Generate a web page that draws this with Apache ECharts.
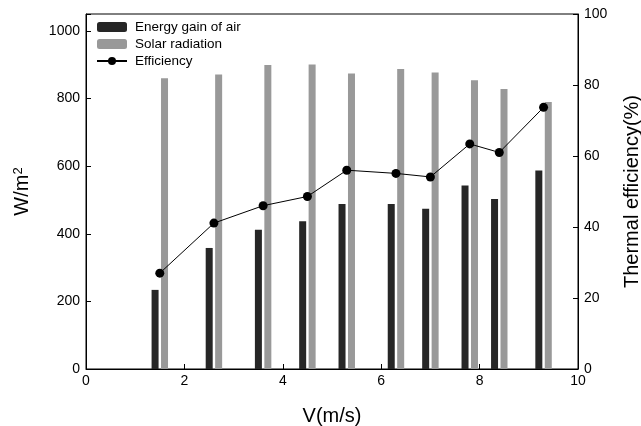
<!DOCTYPE html>
<html>
<head>
<meta charset="utf-8">
<script src="https://cdn.jsdelivr.net/npm/echarts@6/dist/echarts.min.js"></script>
<style>
html,body{margin:0;padding:0;background:#fff;}
#chart{width:641px;height:426px;}
</style>
</head>
<body>
<div id="chart"></div>
<script>
// Data
var speeds = [1.5, 2.6, 3.6, 4.5, 5.3, 6.3, 7.0, 7.8, 8.4, 9.3];          // V (m/s)
var energyGain = [234, 358, 412, 437, 488, 488, 474, 543, 503, 587];      // W/m2
var solarRadiation = [860, 871, 899, 901, 874, 887, 877, 854, 828, 790];  // W/m2
var efficiency = [27.0, 41.1, 46.0, 48.6, 56.0, 55.1, 54.1, 63.4, 61.0, 73.7]; // %
var xTicks = [0, 2, 4, 6, 8, 10];
var leftTicks = [0, 200, 400, 600, 800, 1000];
var rightTicks = [0, 20, 40, 60, 80, 100];

var FONT = '"Liberation Sans", Arial, sans-serif';

function pairs(xs, ys) {
  return xs.map(function (x, i) { return [x, ys[i]]; });
}

var chart = echarts.init(document.getElementById('chart'), null, {renderer: 'canvas'});
chart.setOption({
  animation: false,
  backgroundColor: '#fff',
  textStyle: {fontFamily: FONT, color: '#000'},
  grid: {
    left: 86, right: 63, top: 14, bottom: 57,
    outerBoundsMode: 'none', containLabel: false,
    show: true, borderColor: '#000', borderWidth: 1, backgroundColor: 'transparent'
  },
  legend: {
    orient: 'vertical',
    left: 96, top: 20, padding: 0,
    itemWidth: 30, itemHeight: 10, itemGap: 3,
    textStyle: {fontFamily: FONT, fontSize: 13.5, color: '#000', padding: [0, 0, 0, 3]},
    data: ['Energy gain of air', 'Solar radiation', 'Efficiency']
  },
  xAxis: {
    type: 'value',
    min: xTicks[0], max: xTicks[xTicks.length - 1], interval: 2,
    name: 'V(m/s)', nameLocation: 'middle', nameGap: 37,
    nameTextStyle: {fontFamily: FONT, fontSize: 20, color: '#000'},
    axisLine: {lineStyle: {color: '#000', width: 1}},
    axisTick: {inside: true, length: 5, lineStyle: {color: '#000'}},
    axisLabel: {fontFamily: FONT, fontSize: 14, color: '#000', margin: 5},
    splitLine: {show: false}
  },
  yAxis: [
    {
      type: 'value', position: 'left',
      min: leftTicks[0], max: 1050, interval: 200,
      name: 'W/m{sup|2}', nameLocation: 'middle', nameGap: 54, nameRotate: 90,
      nameTextStyle: {fontFamily: FONT, fontSize: 20, color: '#000',
        rich: {sup: {fontFamily: FONT, fontSize: 13, color: '#000', verticalAlign: 'top'}}},
      axisLine: {show: true, lineStyle: {color: '#000', width: 1}},
      axisTick: {show: true, inside: true, length: 5, lineStyle: {color: '#000'}},
      axisLabel: {fontFamily: FONT, fontSize: 14, color: '#000', margin: 6,
        formatter: function (v) { return leftTicks.indexOf(v) >= 0 ? String(v) : ''; }},
      splitLine: {show: false}
    },
    {
      type: 'value', position: 'right',
      min: rightTicks[0], max: rightTicks[rightTicks.length - 1], interval: 20,
      name: 'Thermal efficiency(%)', nameLocation: 'middle', nameGap: 44, nameRotate: 90,
      nameTextStyle: {fontFamily: FONT, fontSize: 20, color: '#000'},
      axisLine: {show: true, lineStyle: {color: '#000', width: 1}},
      axisTick: {show: true, inside: true, length: 5, lineStyle: {color: '#000'}},
      axisLabel: {fontFamily: FONT, fontSize: 14, color: '#000', margin: 6},
      splitLine: {show: false}
    }
  ],
  series: [
    {
      name: 'Energy gain of air', type: 'bar', yAxisIndex: 0,
      barWidth: 7, barGap: '35%',
      itemStyle: {color: '#262626'},
      data: pairs(speeds, energyGain)
    },
    {
      name: 'Solar radiation', type: 'bar', yAxisIndex: 0,
      barWidth: 7, barGap: '35%',
      itemStyle: {color: '#999999'},
      data: pairs(speeds, solarRadiation)
    },
    {
      name: 'Efficiency', type: 'line', yAxisIndex: 1,
      symbol: 'circle', symbolSize: 9,
      lineStyle: {color: '#000', width: 1},
      itemStyle: {color: '#000'},
      data: pairs(speeds, efficiency)
    }
  ]
});
</script>
</body>
</html>
